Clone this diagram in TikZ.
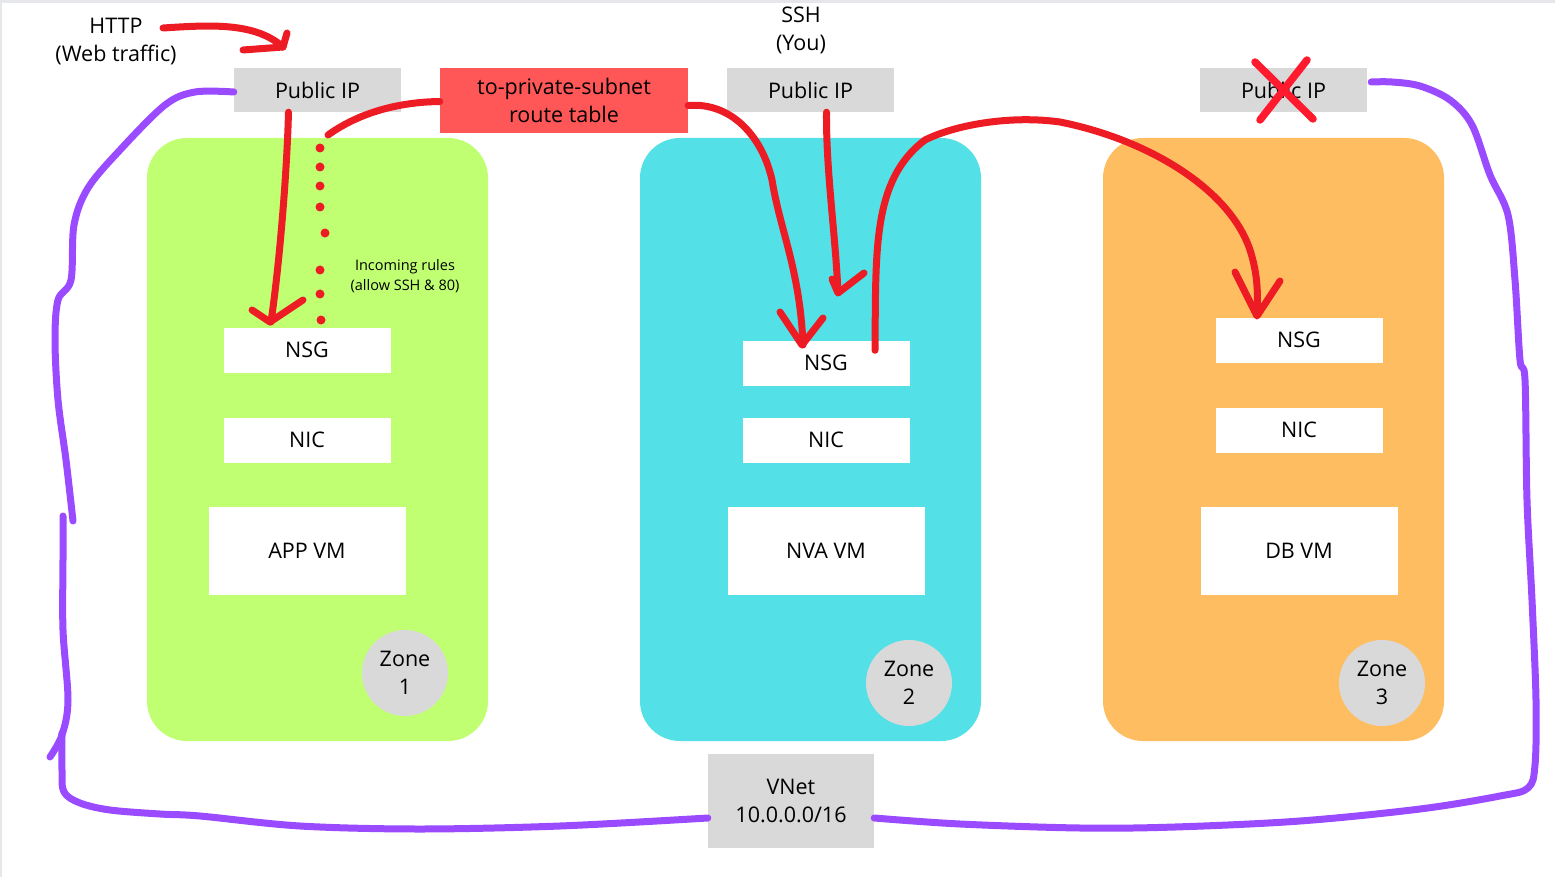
\documentclass[tikz,border=0pt]{standalone}
\usepackage{fontspec}
\setmainfont{Open Sans}
\definecolor{zgreen}{HTML}{C1FF72}
\definecolor{zcyan}{HTML}{53E0E6}
\definecolor{zorange}{HTML}{FEBD61}
\definecolor{boxgray}{HTML}{D9D9D9}
\definecolor{rtred}{HTML}{FF5757}
\definecolor{inkred}{HTML}{ED1C24}
\definecolor{xred}{HTML}{FF1A2E}
\definecolor{inkpurple}{HTML}{9B4BFF}
\definecolor{edgegray}{HTML}{E5E7EB}
\begin{document}
\begin{tikzpicture}[x=1pt,y=-1pt,
  txt/.style={font=\fontsize{21.5}{28}\selectfont, text=black, align=center, inner sep=0pt},
  zonebg/.style={rounded corners=40pt, draw=none},
  graybox/.style={txt, fill=boxgray, minimum width=167pt, minimum height=44pt},
  whitebox/.style={txt, fill=white, minimum width=167pt, minimum height=45pt},
  vmbox/.style={txt, fill=white, minimum width=197pt, minimum height=88pt},
  zonecirc/.style={txt, circle, fill=boxgray, minimum size=86pt},
  redink/.style={draw=inkred, line width=7pt, line cap=round, line join=round},
  purpleink/.style={draw=inkpurple, line width=7pt, line cap=round, line join=round},
  dot/.style={circle, fill=inkred, inner sep=0pt, minimum size=9pt}
]
\useasboundingbox (0,0) rectangle (1555,877);
\fill[white] (0,0) rectangle (1555,877);
\fill[edgegray] (0,0) rectangle (1555,3);
\fill[edgegray] (0,0) rectangle (1.5,877);

% zones
\fill[zgreen, zonebg] (147,138) rectangle (488,741);
\fill[zcyan, zonebg] (640,138) rectangle (981,741);
\fill[zorange, zonebg] (1103,138) rectangle (1444,741);

% top labels
\node[txt] (http) at (116,42) {HTTP\\(Web traffic)};
\node[txt] (ssh) at (801,30) {SSH\\(You)};
\coordinate (httpstart) at (163,28);

% public IPs
\node[graybox] (pipL) at (317.5,90) {Public IP};
\node[graybox] (pipM) at (810.5,90) {Public IP};
\node[graybox] (pipR) at (1283.5,90) {Public IP};

% route table
\node[txt, fill=rtred, minimum width=248pt, minimum height=65pt] (rt) at (564,100.5) {to-private-subnet\\route table};

% zone 1
\node[whitebox] (nsg1) at (307,350) {NSG};
\node[whitebox] (nic1) at (307,440) {NIC};
\node[vmbox] (vm1) at (307,551) {APP VM};
\node[zonecirc] (z1) at (405,673) {Zone\\1};
\node[txt, font=\fontsize{14.5}{20}\selectfont] (rules) at (405,276) {Incoming rules\\(allow SSH \& 80)};

% zone 2
\node[whitebox] (nsg2) at (826,363) {NSG};
\node[whitebox] (nic2) at (826,440) {NIC};
\node[vmbox] (vm2) at (826,551) {NVA VM};
\node[zonecirc] (z2) at (909,683) {Zone\\2};

% zone 3
\node[whitebox] (nsg3) at (1299,340) {NSG};
\node[whitebox] (nic3) at (1299,430) {NIC};
\node[vmbox] (vm3) at (1299,551) {DB VM};
\node[zonecirc] (z3) at (1382,683) {Zone\\3};

% vnet
\node[txt, fill=boxgray, minimum width=166pt, minimum height=94pt] (vnet) at (791,801) {VNet\\10.0.0.0/16};

% purple vnet boundary
\draw[purpleink] plot[smooth, tension=0.55] coordinates {
  ([yshift=-2pt]pipL.west) (195,92) (165,105) (120,150) (88,188) (74,225) (71,280) (58,300) (55,340) (58,400) (66,460) (73,521)};
\draw[purpleink] plot[smooth, tension=0.55] coordinates {
  (63,516) (63,560) (63,630) (68,700) (62,735) (50,757)};
\draw[purpleink] plot[smooth, tension=0.55] coordinates {
  (62,733) (62,770) (64,792) (80,803) (110,810) (160,814) (200,816) (300,826) (420,829) (560,826) (vnet.west |- 0,818)};
\draw[purpleink] plot[smooth, tension=0.55] coordinates {
  (vnet.east |- 0,818) (960,824) (1080,828) (1175,827) (1300,821) (1420,809) (1500,796) (1528,788) (1535,765) (1536,700) (1532,600) (1527,500) (1525,380) (1520,360) (1515,280) (1508,215) (1490,175) (1472,125) (1450,100) (1420,86) (1392,82) ([xshift=4pt,yshift=8pt]pipR.east)};

% HTTP arrow
\draw[redink] (httpstart) .. controls (210,25) and (255,22) .. (283,47);
\draw[redink] (287,33) -- (283,47) -- (243,50);

% left public IP down to NSG1
\draw[redink] ([xshift=-29pt]pipL.south) .. controls (287,170) and (280,260) .. (271,322);
\draw[redink] (252,310) -- (270,322) -- (303,300);

% route table dotted to NSG1
\draw[redink] ([yshift=-1pt]rt.west) .. controls (400,102) and (360,112) .. (328,135);
\foreach \yy/\xx in {148/320, 167/320, 186/320, 207/320, 233/325, 270/320, 294/320, 320/321}
  \node[dot] at (\xx,\yy) {};

% route table to NSG2
\draw[redink] ([yshift=-5pt]rt.east) .. controls (730,102) and (762,135) .. (772,180)
  .. controls (780,230) and (800,270) .. (803,345);
\draw[redink] (780,312) -- (802,345) -- (823,318);

% middle public IP down
\draw[redink] ([xshift=16pt]pipM.south) .. controls (826,170) and (835,230) .. (838,292);
\draw[redink] (832,279) -- (838,293) -- (864,273);

% NSG2 over to NSG3
\draw[redink] ([xshift=49pt,yshift=-10pt]nsg2.north) .. controls (876,250) and (872,180) .. (925,140)
  .. controls (955,125) and (1010,115) .. (1060,122)
  .. controls (1150,140) and (1230,190) .. (1250,250)
  .. controls (1258,275) and (1258,295) .. (1257,315);
\draw[redink] (1235,272) -- (1257,316) -- (1280,281);

% cross on right public IP
\draw[draw=xred, line width=7.5pt, line cap=round] ([xshift=-28.5pt,yshift=28pt]pipR.center) -- (1313,119);
\draw[draw=xred, line width=7.5pt, line cap=round] (1307,60) -- (1260,120);
\end{tikzpicture}
\end{document}
